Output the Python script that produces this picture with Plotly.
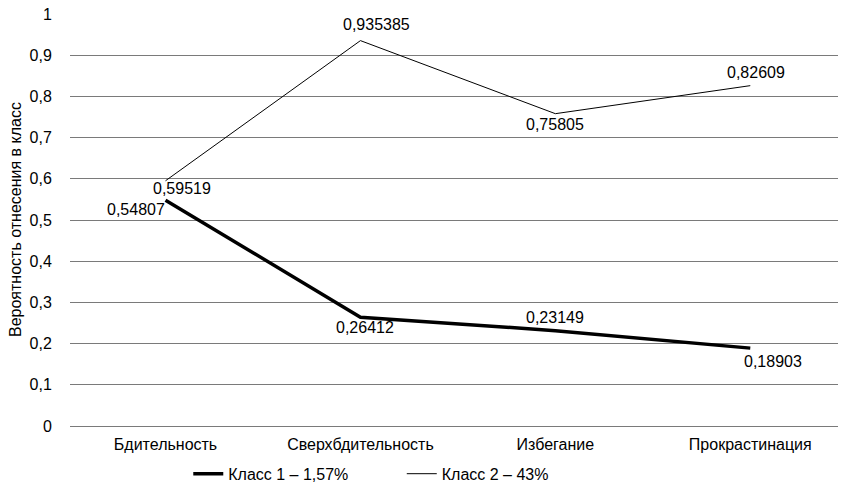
import plotly.graph_objects as go

categories = ["Бдительность", "Сверхбдительность", "Избегание", "Прокрастинация"]
class1_name = "Класс 1 – 1,57%"
class2_name = "Класс 2 – 43%"
class1_values = [0.54807, 0.26412, 0.23149, 0.18903]
class2_values = [0.59519, 0.935385, 0.75805, 0.82609]
class1_labels = ["0,54807", "0,26412", "0,23149", "0,18903"]
class2_labels = ["0,59519", "0,935385", "0,75805", "0,82609"]
y_tickvals = [0, 0.1, 0.2, 0.3, 0.4, 0.5, 0.6, 0.7, 0.8, 0.9, 1]
y_ticktext = ["0", "0,1", "0,2", "0,3", "0,4", "0,5", "0,6", "0,7", "0,8", "0,9", "1"]
y_title = "Вероятность отнесения в класс"

# label offsets in pixels (style)
class1_shifts = [(-30, -9), (5, -10), (0, 13), (23, -13)]
class2_shifts = [(16, -8), (16, 16), (0, -11), (6, 13)]

FONT = "Liberation Sans, Arial, sans-serif"
FS = 16

fig = go.Figure()
fig.add_trace(go.Scatter(x=categories, y=class1_values, mode="lines", name=class1_name,
                         line=dict(color="black", width=3.5), legend="legend"))
fig.add_trace(go.Scatter(x=categories, y=class2_values, mode="lines", name=class2_name,
                         line=dict(color="black", width=1), legend="legend2"))

annotations = []
for vals, labs, shifts in ((class1_values, class1_labels, class1_shifts),
                           (class2_values, class2_labels, class2_shifts)):
    for c, v, t, (dx, dy) in zip(categories, vals, labs, shifts):
        annotations.append(dict(x=c, y=v, xref="x", yref="y", text=t, showarrow=False,
                                xshift=dx, yshift=dy, font=dict(size=FS, color="black", family=FONT)))
annotations.append(dict(x=-0.0716, y=0.5, xref="paper", yref="paper", text=y_title,
                        textangle=-90, showarrow=False, xanchor="center", yanchor="middle",
                        font=dict(size=FS, color="black", family=FONT)))

legend_common = dict(orientation="h", y=-0.116, xanchor="left", yanchor="middle",
                     font=dict(size=FS, color="black"), bgcolor="rgba(0,0,0,0)", borderwidth=0)

fig.update_layout(
    width=844, height=487,
    margin=dict(l=70, r=6, t=14, b=61, autoexpand=False),
    paper_bgcolor="white", plot_bgcolor="white",
    font=dict(family=FONT, size=FS, color="black"),
    showlegend=True,
    legend=dict(x=0.154, **legend_common),
    legend2=dict(x=0.432, **legend_common),
    annotations=annotations,
    xaxis=dict(type="category", range=[-0.49, 3.45], showgrid=False, zeroline=False,
               showline=False, ticks="outside", ticklen=4, tickcolor="rgba(0,0,0,0)",
               tickfont=dict(size=FS, color="black"), automargin=False),
    yaxis=dict(range=[0, 1], tickvals=y_tickvals, ticktext=y_ticktext, showgrid=True,
               gridcolor="#7a7a7a", gridwidth=1, zeroline=True, zerolinecolor="#7a7a7a",
               zerolinewidth=1, showline=False, ticks="outside", ticklen=14,
               tickcolor="rgba(0,0,0,0)", tickfont=dict(size=FS, color="black"),
               automargin=False),
)

fig.write_html("out.html", config={"displayModeBar": False},
               post_script="document.body.style.margin='0';")
